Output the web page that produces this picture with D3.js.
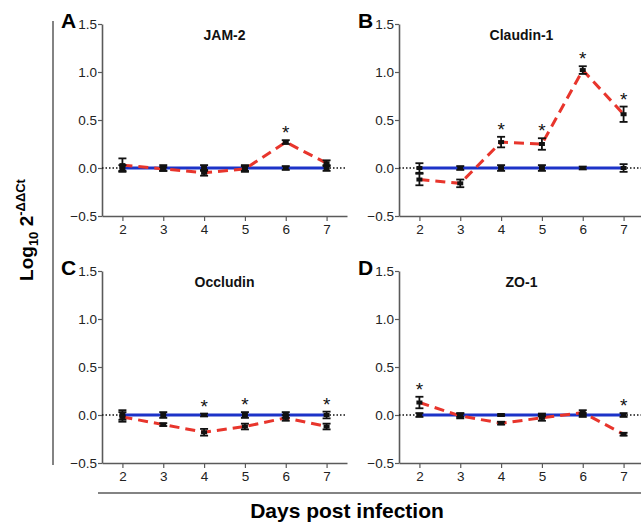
<!DOCTYPE html>
<html>
<head>
<meta charset="utf-8">
<script src="https://cdnjs.cloudflare.com/ajax/libs/d3/7.8.5/d3.min.js"></script>
<style>
  body { margin: 0; background: #fff; }
  svg { font-family: "Liberation Sans", Arial, sans-serif; }
</style>
</head>
<body>
<div id="chart"></div>
<script>
var days = [2, 3, 4, 5, 6, 7];
var yTicks = [-0.5, 0.0, 0.5, 1.0, 1.5];

var genes = ['JAM-2', 'Claudin-1', 'Occludin', 'ZO-1'];
var letters = ['A', 'B', 'C', 'D'];

// infected (red dashed) means and errors
var jam2Inf = [0.03, -0.01, -0.05, -0.01, 0.27, 0.05];
var jam2InfErr = [0.07, 0.02, 0.03, 0.03, 0.02, 0.03];
var cldnInf = [-0.12, -0.16, 0.27, 0.25, 1.02, 0.56];
var cldnInfErr = [0.06, 0.04, 0.055, 0.06, 0.04, 0.08];
var occlInf = [-0.02, -0.10, -0.18, -0.12, -0.03, -0.12];
var occlInfErr = [0.05, 0.015, 0.035, 0.03, 0.03, 0.03];
var zo1Inf = [0.13, -0.01, -0.085, -0.03, 0.025, -0.20];
var zo1InfErr = [0.06, 0.025, 0.015, 0.03, 0.025, 0.015];

// control (blue solid) means and errors
var jam2Ctl = [0, 0, 0, 0, 0, 0];
var jam2CtlErr = [0.03, 0.03, 0.03, 0.03, 0.02, 0.03];
var cldnCtl = [0, 0, 0, 0, 0, 0];
var cldnCtlErr = [0.05, 0.02, 0.03, 0.03, 0.015, 0.04];
var occlCtl = [0, 0, 0, 0, 0, 0];
var occlCtlErr = [0.05, 0.03, 0.015, 0.03, 0.03, 0.035];
var zo1Ctl = [0, 0, 0, 0, 0, 0];
var zo1CtlErr = [0.02, 0.02, 0.01, 0.015, 0.02, 0.02];

// days marked with an asterisk
var jam2Sig = [6];
var cldnSig = [4, 5, 6, 7];
var occlSig = [4, 5, 7];
var zo1Sig = [2, 7];

var panels = [
  {inf: jam2Inf, infErr: jam2InfErr, ctl: jam2Ctl, ctlErr: jam2CtlErr, sig: jam2Sig},
  {inf: cldnInf, infErr: cldnInfErr, ctl: cldnCtl, ctlErr: cldnCtlErr, sig: cldnSig},
  {inf: occlInf, infErr: occlInfErr, ctl: occlCtl, ctlErr: occlCtlErr, sig: occlSig},
  {inf: zo1Inf, infErr: zo1InfErr, ctl: zo1Ctl, ctlErr: zo1CtlErr, sig: zo1Sig},
];

var chartWidth = 641;
var chartHeight = 525;
var colLeft = [102, 399];
var rowTop = [24, 271];
var plotWidth = 245;
var plotHeight = 192;
var axisColor = '#5a5a5a';

var svg = d3.select('#chart')
    .append('svg')
    .attr('width', chartWidth)
    .attr('height', chartHeight);

var scaleX = d3.scaleLinear()
    .domain([1.5, 7.5])
    .range([0, plotWidth]);

var scaleY = d3.scaleLinear()
    .domain([-0.5, 1.5])
    .range([plotHeight, 0]);

var line = function(vals) {
  return d3.line()
      .x(function(d, i) { return scaleX(days[i]); })
      .y(function(d) { return scaleY(d); })(vals);
};

panels.forEach(function(p, k) {
  var g = svg.append('g')
      .attr('transform', 'translate(' + colLeft[k % 2] + ',' + rowTop[Math.floor(k / 2)] + ')');

  // Axes
  var ax = g.append('g')
      .attr('transform', 'translate(0,' + plotHeight + ')')
      .call(d3.axisBottom(scaleX).tickValues(days).tickFormat(d3.format('d'))
          .tickSize(5).tickPadding(3).tickSizeOuter(0));
  var ay = g.append('g')
      .call(d3.axisLeft(scaleY).tickValues(yTicks).tickFormat(d3.format('.1f'))
          .tickSize(4).tickPadding(1).tickSizeOuter(0));
  [ax, ay].forEach(function(a) {
    a.select('.domain').attr('stroke', axisColor).attr('stroke-width', 1.6);
    a.selectAll('.tick line').attr('stroke', axisColor).attr('stroke-width', 1.2);
    a.selectAll('.tick text').attr('fill', '#222').style('font-size', '13.5px');
  });

  // dotted zero line
  g.append('line')
      .attr('x1', 0).attr('x2', plotWidth)
      .attr('y1', scaleY(0)).attr('y2', scaleY(0))
      .attr('stroke', '#111').attr('stroke-width', 1.4)
      .attr('stroke-dasharray', '1.5,2');

  // control line
  g.append('path')
      .attr('d', line(p.ctl))
      .attr('fill', 'none')
      .attr('stroke', '#1c33c8')
      .attr('stroke-width', 3);

  // infected line
  g.append('path')
      .attr('d', line(p.inf))
      .attr('fill', 'none')
      .attr('stroke', '#e8352c')
      .attr('stroke-width', 3)
      .attr('stroke-dasharray', '10,6');

  // Error bars
  [[p.ctl, p.ctlErr], [p.inf, p.infErr]].forEach(function(s) {
    var eb = g.append('g').selectAll('g')
        .data(s[0])
        .enter()
        .append('g')
        .attr('stroke', '#111')
        .attr('stroke-width', 1.8);
    eb.append('line')
        .attr('x1', function(d, i) { return scaleX(days[i]); })
        .attr('x2', function(d, i) { return scaleX(days[i]); })
        .attr('y1', function(d, i) { return scaleY(d + s[1][i]); })
        .attr('y2', function(d, i) { return scaleY(d - s[1][i]); });
    [1, -1].forEach(function(sign) {
      eb.append('line')
          .attr('x1', function(d, i) { return scaleX(days[i]) - 4; })
          .attr('x2', function(d, i) { return scaleX(days[i]) + 4; })
          .attr('y1', function(d, i) { return scaleY(d + sign * s[1][i]); })
          .attr('y2', function(d, i) { return scaleY(d + sign * s[1][i]); });
    });
    eb.append('rect')
        .attr('x', function(d, i) { return scaleX(days[i]) - 3; })
        .attr('y', function(d) { return scaleY(d) - 2; })
        .attr('width', 6)
        .attr('height', 4)
        .attr('stroke', 'none')
        .attr('fill', '#111');
  });

  // Asterisks
  g.append('g').selectAll('text')
      .data(p.sig)
      .enter()
      .append('text')
      .attr('x', function(d) { return scaleX(d); })
      .attr('y', function(d) {
        var i = days.indexOf(d);
        var top = Math.max(p.inf[i] + p.infErr[i], p.ctl[i] + p.ctlErr[i]);
        return scaleY(top) - 1;
      })
      .attr('text-anchor', 'middle')
      .style('font-size', '19px')
      .attr('fill', '#111')
      .text('*');

  // Title and panel letter
  g.append('text')
      .attr('x', plotWidth / 2)
      .attr('y', 16)
      .attr('text-anchor', 'middle')
      .style('font-size', '14px')
      .style('font-weight', 'bold')
      .attr('fill', '#111')
      .text(genes[k]);
  g.append('text')
      .attr('x', -41)
      .attr('y', 4)
      .style('font-size', '21px')
      .style('font-weight', 'bold')
      .attr('fill', '#000')
      .text(letters[k]);
});

// Frame lines
svg.append('line')
    .attr('x1', 53).attr('x2', 53)
    .attr('y1', 21).attr('y2', 465)
    .attr('stroke', axisColor).attr('stroke-width', 1.5);
svg.append('line')
    .attr('x1', 98).attr('x2', chartWidth)
    .attr('y1', 493).attr('y2', 493)
    .attr('stroke', axisColor).attr('stroke-width', 1.5);

// Axis titles
svg.append('text')
    .attr('x', 347)
    .attr('y', 518)
    .attr('text-anchor', 'middle')
    .style('font-size', '21px')
    .style('font-weight', 'bold')
    .attr('fill', '#000')
    .text('Days post infection');

var yt = svg.append('text')
    .attr('transform', 'translate(33,230) rotate(-90)')
    .attr('text-anchor', 'middle')
    .style('font-size', '19px')
    .style('font-weight', 'bold')
    .attr('fill', '#000');
yt.append('tspan').text('Log');
yt.append('tspan').attr('dy', 5).style('font-size', '13px').text('10');
yt.append('tspan').attr('dy', -5).text(' 2');
yt.append('tspan').attr('dy', -8).style('font-size', '13px').text('-ΔΔCt');
</script>
</body>
</html>
